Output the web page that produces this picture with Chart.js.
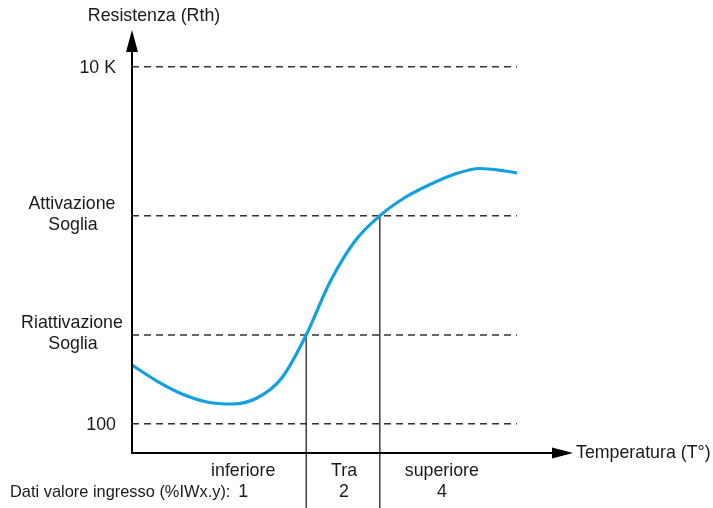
<!DOCTYPE html>
<html>
<head>
<meta charset="utf-8">
<script src="https://cdn.jsdelivr.net/npm/chart.js@4.4.1/dist/chart.umd.min.js"></script>
<style>
html,body{margin:0;padding:0;background:#fff;}
#wrap{width:713px;height:508px;position:relative;}
</style>
</head>
<body>
<div id="wrap"><canvas id="c" width="713" height="508"></canvas></div>
<script>
// ---- data (arbitrary units: temperature 0..100, resistance 0..100) ----
const curveT = [0, 5.67, 11.34, 17.01, 22.68, 28.34, 34.01, 39.5, 44.9, 50.57, 56.2, 61.9, 67.57, 73.24, 78.91, 84.58, 87.3];
const curveR = [20.8, 17.0, 13.95, 12.06, 11.58, 13.0, 17.8, 27.9, 40.43, 50.12, 56.1, 60.4, 63.48, 65.96, 67.26, 66.67, 66.2];
const levelNames = ['100', 'Riattivazione\nSoglia', 'Attivazione\nSoglia', '10 K'];
const levelValues = [6.9, 27.9, 56.1, 91.3];
const levelEndT = 87.3;
const crossT = [39.5, 56.2];          // temperatures where curve meets thresholds
const crossR = [27.9, 56.1];
const zoneLabels = ['inferiore', 'Tra', 'superiore'];
const zoneValues = ['1', '2', '4'];
const rowTitle = 'Dati valore ingresso (%IWx.y):';
const yTitle = 'Resistenza (Rth)';
const xTitle = 'Temperatura (T°)';

const FAM = '"Liberation Sans", Arial, sans-serif';
const FONT = '17.8px ' + FAM;
const FONT_ROW = '16.4px ' + FAM;
const TXT = '#1a1a1a';

const datasets = [];
datasets.push({
  data: curveT.map((t, i) => ({x: t, y: curveR[i]})),
  borderColor: '#14a0e0', borderWidth: 3.2, pointRadius: 0,
  cubicInterpolationMode: 'monotone', fill: false, order: 0
});
levelValues.forEach(v => datasets.push({
  data: [{x: 0, y: v}, {x: levelEndT, y: v}],
  borderColor: '#333', borderWidth: 1.6, borderDash: [7, 5],
  pointRadius: 0, fill: false, order: 2
}));
crossT.forEach((t, i) => datasets.push({
  data: [{x: t, y: crossR[i]}, {x: t, y: -20}],
  borderColor: '#222', borderWidth: 1.3, pointRadius: 0,
  fill: false, clip: false, order: 1
}));

const decor = {
  id: 'decor',
  afterDatasetsDraw(chart) {
    const ctx = chart.ctx, xs = chart.scales.x, ys = chart.scales.y;
    const x0 = xs.getPixelForValue(0), y0 = ys.getPixelForValue(0);
    const yTop = ys.getPixelForValue(100), xEnd = xs.getPixelForValue(100);
    ctx.save();
    ctx.strokeStyle = '#000'; ctx.fillStyle = '#000'; ctx.lineWidth = 2;
    // y axis
    ctx.beginPath(); ctx.moveTo(x0, y0 + 1); ctx.lineTo(x0, yTop + 18); ctx.stroke();
    ctx.beginPath(); ctx.moveTo(x0, yTop); ctx.lineTo(x0 - 6, yTop + 22); ctx.lineTo(x0 + 6, yTop + 22); ctx.closePath(); ctx.fill();
    // x axis
    ctx.beginPath(); ctx.moveTo(x0 - 1, y0); ctx.lineTo(xEnd - 18, y0); ctx.stroke();
    ctx.beginPath(); ctx.moveTo(xEnd, y0); ctx.lineTo(xEnd - 21, y0 - 5.5); ctx.lineTo(xEnd - 21, y0 + 5.5); ctx.closePath(); ctx.fill();

    ctx.font = FONT; ctx.fillStyle = TXT; ctx.textBaseline = 'middle';
    // titles
    ctx.textAlign = 'center'; ctx.fillText(yTitle, x0 + 22, 16);
    ctx.textAlign = 'left'; ctx.fillText(xTitle, xEnd + 3, y0);
    // level labels
    levelNames.forEach((n, i) => {
      const py = ys.getPixelForValue(levelValues[i]);
      const lines = n.split('\n');
      if (lines.length === 1) {
        ctx.textAlign = 'right'; ctx.fillText(n, x0 - 16, py + 1);
      } else {
        ctx.textAlign = 'center';
        ctx.fillText(lines[0], x0 - 60, py - 12);
        ctx.fillText(lines[1], x0 - 59, py + 9);
      }
    });
    // zone labels
    const r1 = y0 + 18, r2 = y0 + 39;
    const vx1 = xs.getPixelForValue(crossT[0]), vx2 = xs.getPixelForValue(crossT[1]);
    const zc = [vx1 - 63, (vx1 + vx2) / 2 + 1, vx2 + 62];
    ctx.textAlign = 'center';
    zoneLabels.forEach((z, i) => ctx.fillText(z, zc[i], r1));
    zoneValues.forEach((z, i) => ctx.fillText(z, i === 0 ? zc[0] : zc[i], r2));
    ctx.font = FONT_ROW;
    ctx.textAlign = 'left'; ctx.fillText(rowTitle, 10, r2);
    ctx.restore();
  }
};

new Chart(document.getElementById('c'), {
  type: 'line',
  data: {datasets},
  options: {
    responsive: false, animation: false,
    layout: {padding: {left: 132, right: 140, top: 30, bottom: 55}},
    plugins: {legend: {display: false}, tooltip: {enabled: false}},
    scales: {
      x: {type: 'linear', min: 0, max: 100, display: false},
      y: {type: 'linear', min: 0, max: 100, display: false}
    }
  },
  plugins: [decor]
});
</script>
</body>
</html>
